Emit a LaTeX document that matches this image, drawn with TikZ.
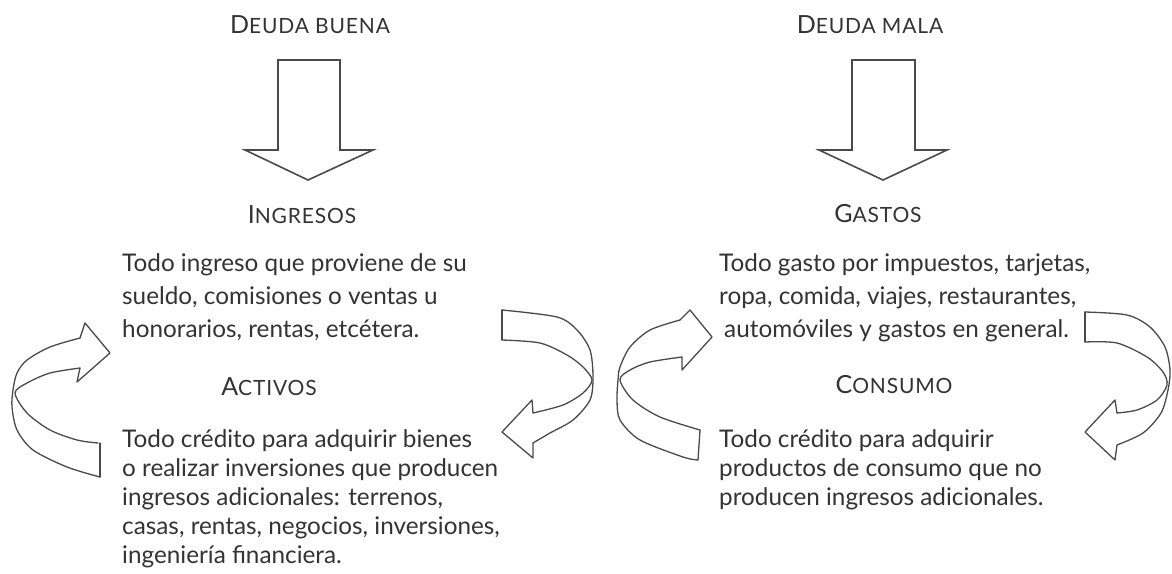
\documentclass[tikz,border=0pt]{standalone}
\usepackage{fontspec}
\setmainfont{Lato}
\usetikzlibrary{calc}

\definecolor{textgray}{HTML}{333333}
\definecolor{linegray}{HTML}{4A4A4A}

% small caps by hand: big first letter, smaller capitals after it
\newcommand{\versal}[2]{{\fontsize{25}{25}\selectfont #1}{\fontsize{21}{21}\selectfont\addfontfeature{LetterSpace=4}#2}}

\tikzset{
  bigarrow/.style={draw=linegray, line width=1.6pt, line join=miter},
  ribbon/.style={draw=linegray, line width=1.3pt, line join=round, line cap=round},
  titulo/.style={anchor=base, inner sep=0pt, text=textgray},
  % anchored on the baseline of the last line
  parrafo/.style={anchor=base west, inner sep=0pt, align=left, text=textgray,
    font=\fontsize{24.3}{33}\selectfont},
  parrafob/.style={parrafo, font=\fontsize{24.3}{29}\selectfont},
}

\begin{document}
\begin{tikzpicture}[x=1pt,y=-1pt]
  \useasboundingbox (0,0) rectangle (1172,573);

  % titles
  \node[titulo] (buena) at (310,33) {\versal{D}{EUDA BUENA}};
  \node[titulo] (mala) at (870,33) {\versal{D}{EUDA MALA}};
  \node[titulo] (ingresos) at (302,223) {\versal{I}{NGRESOS}};
  \node[titulo] (gastos) at (878,222) {\versal{G}{ASTOS}};
  \node[titulo] (activos) at (269,395) {\versal{A}{CTIVOS}};
  \node[titulo] (consumo) at (894,393) {\versal{C}{ONSUMO}};

  % texts
  \node[parrafo] (txtingresos) at (122,337) {Todo ingreso que proviene de su\\
    sueldo, comisiones o ventas u\\ honorarios, rentas, etcétera.};
  \node[parrafo] (txtgastos) at (719,337) {Todo gasto por impuestos, tarjetas,\\
    ropa, comida, viajes, restaurantes,\\ \hspace*{5pt}automóviles y gastos en general.};
  \node[parrafob] (txtactivos) at (122,563) {Todo crédito para adquirir bienes\\
    o realizar inversiones que producen\\ ingresos adicionales: terrenos,\\
    casas, rentas, negocios, inversiones,\\ ingeniería financiera.};
  \node[parrafob] (txtconsumo) at (719,505) {Todo crédito para adquirir\\
    productos de consumo que no\\ producen ingresos adicionales.};

  % down arrows
  \draw[bigarrow] (278,60) -- (340,60) -- (340,150) -- (373,150) -- (308,180)
    -- (245,150) -- (278,150) -- cycle;
  \draw[bigarrow] (852,60) -- (915,60) -- (915,150) -- (947,150) -- (883,180)
    -- (819,150) -- (852,150) -- cycle;

  % turning arrow, left
  \draw[ribbon] (100,443) -- (100,477);
  \draw[ribbon] plot[smooth] coordinates {(100,477) (67,467) (33,450) (17,430)
    (12,407) (13,390) (17,373) (27,360) (50,347) (80,338)};
  \draw[ribbon] plot[smooth] coordinates {(98,443) (77,440) (50,430) (27,413)
    (15,393) (27,383) (50,373) (80,368)};
  \draw[ribbon] (80,338) -- (85,323) -- (110,353) -- (77,382) -- (80,368);

  % turning arrow, middle left
  \draw[ribbon] (502,310) -- (502,340);
  \draw[ribbon] plot[smooth] coordinates {(502,310) (557,317) (577,330) (590,350)
    (593,377) (590,400) (573,420) (550,433) (533,443)};
  \draw[ribbon] plot[smooth] coordinates {(502,340) (540,343) (567,355) (583,367)
    (592,380) (583,393) (563,405) (533,413)};
  \draw[ribbon] (533,413) -- (532,400) -- (502,432) -- (533,458) -- (533,443);

  % turning arrow, middle right
  \draw[ribbon] (700,430) -- (698,460);
  \draw[ribbon] plot[smooth] coordinates {(698,460) (683,457) (640,440) (620,420)
    (617,400) (618,380) (620,367) (630,347) (650,330) (680,320)};
  \draw[ribbon] plot[smooth] coordinates {(700,430) (660,417) (633,400) (620,380)
    (630,370) (650,362) (682,357)};
  \draw[ribbon] (680,320) -- (690,310) -- (712,337) -- (682,370) -- (682,357);

  % turning arrow, right
  \draw[ribbon] (1085,312) -- (1085,342);
  \draw[ribbon] plot[smooth] coordinates {(1085,312) (1127,315) (1150,327)
    (1165,347) (1170,370) (1168,390) (1161,413) (1143,433) (1117,445)};
  \draw[ribbon] plot[smooth] coordinates {(1085,342) (1117,343) (1147,357)
    (1163,372) (1167,385) (1157,400) (1137,410) (1117,413)};
  \draw[ribbon] (1117,413) -- (1115,400) -- (1085,432) -- (1115,460) -- (1117,445);
\end{tikzpicture}
\end{document}
